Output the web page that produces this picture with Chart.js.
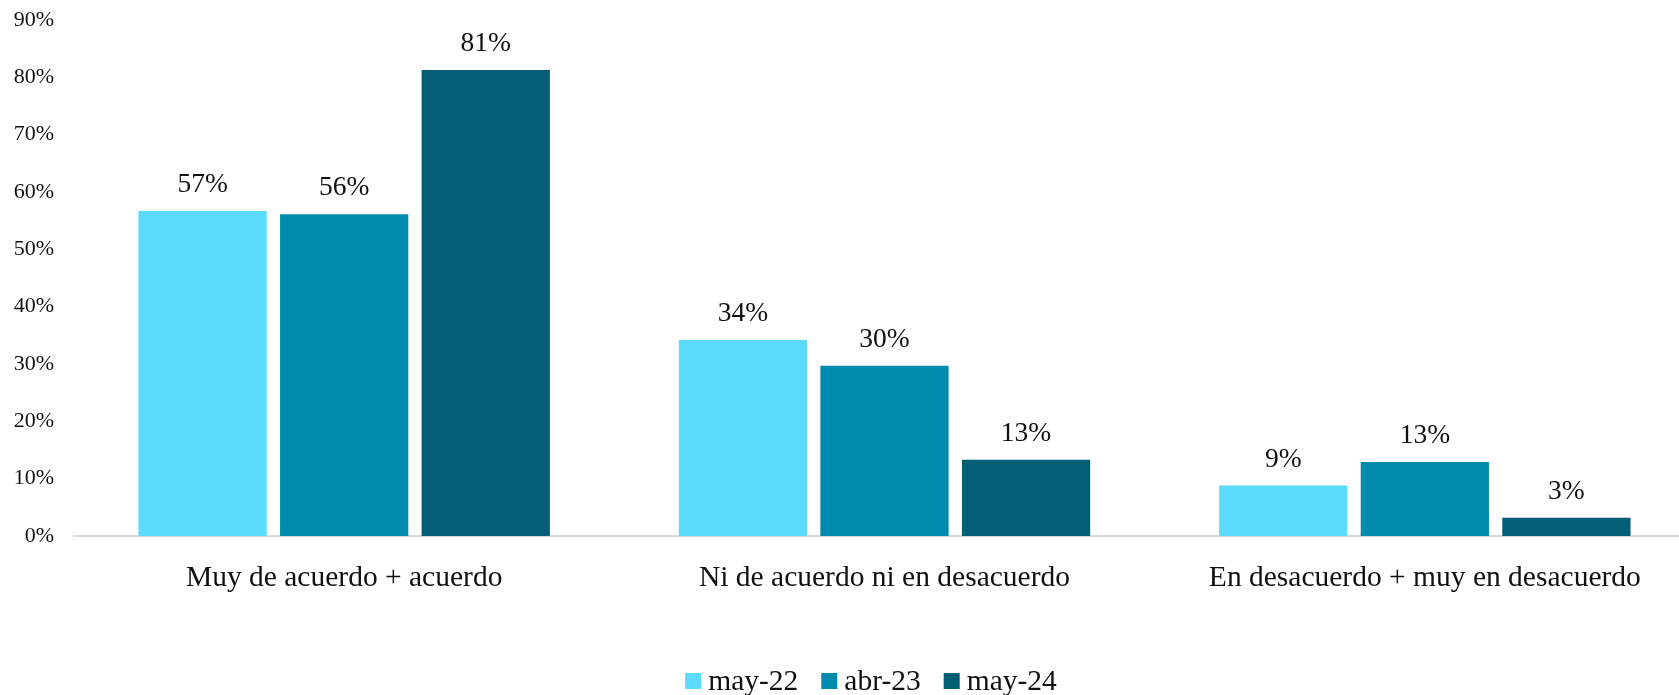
<!DOCTYPE html>
<html>
<head>
<meta charset="utf-8">
<script src="https://cdn.jsdelivr.net/npm/chart.js@4.4.0/dist/chart.umd.min.js"></script>
<style>
  html, body { margin: 0; padding: 0; background: #fff; overflow: hidden; }
  /* plot area runs a little past the right edge, as in the source image */
  #wrap { width: 1695px; height: 695px; position: relative; }
</style>
</head>
<body>
<div id="wrap"><canvas id="chart"></canvas></div>
<script>
// ===== Data =====
const categories = ['Muy de acuerdo + acuerdo', 'Ni de acuerdo ni en desacuerdo', 'En desacuerdo + muy en desacuerdo'];
const seriesNames = ['may-22', 'abr-23', 'may-24'];
const may22 = [56.7, 34.2, 8.8];
const abr23 = [56.1, 29.7, 12.9];
const may24 = [81.3, 13.3, 3.2];
const barLabels = [['57%', '34%', '9%'], ['56%', '30%', '13%'], ['81%', '13%', '3%']];
const yTicks = [0, 10, 20, 30, 40, 50, 60, 70, 80, 90];
const colors = ['#5BDCFD', '#008AAE', '#015E74'];

const FONT = "'Palatino Linotype', 'Book Antiqua', Palatino, 'Liberation Serif', serif";

/* ===== value labels above bars ===== */
const valueLabels = {
  id: 'valueLabels',
  afterDatasetsDraw(chart) {
    const ctx = chart.ctx;
    ctx.save();
    ctx.font = '27.5px ' + FONT;
    ctx.fillStyle = '#111';
    ctx.textAlign = 'center';
    ctx.textBaseline = 'alphabetic';
    chart.data.datasets.forEach((ds, i) => {
      chart.getDatasetMeta(i).data.forEach((bar, j) => {
        ctx.fillText(barLabels[i][j], bar.x, bar.y - 19);
      });
    });
    ctx.restore();
  }
};

/* ===== legend at the bottom (drawn by hand, tight spacing) ===== */
const bottomLegend = {
  id: 'bottomLegend',
  afterDraw(chart) {
    const ctx = chart.ctx;
    const box = 16, gapText = 7, gapItem = 23, cy = 681, cx = 871;
    ctx.save();
    ctx.font = '29.5px ' + FONT;
    ctx.textBaseline = 'middle';
    ctx.textAlign = 'left';
    const items = chart.data.datasets.map(ds => ({
      text: ds.label, color: ds.backgroundColor, w: ctx.measureText(ds.label).width
    }));
    const total = items.reduce((s, it) => s + box + gapText + it.w, 0) + gapItem * (items.length - 1);
    let x = cx - total / 2;
    items.forEach(it => {
      ctx.fillStyle = it.color;
      ctx.fillRect(x, cy - box / 2, box, box);
      x += box + gapText;
      ctx.fillStyle = '#111';
      ctx.fillText(it.text, x, cy + 1);
      x += it.w + gapItem;
    });
    ctx.restore();
  }
};

const series = [may22, abr23, may24];
new Chart(document.getElementById('chart'), {
  type: 'bar',
  data: {
    labels: categories,
    datasets: seriesNames.map((name, i) => ({
      label: name,
      data: series[i],
      backgroundColor: colors[i],
      borderWidth: 0,
      categoryPercentage: 0.786,
      barPercentage: 0.906
    }))
  },
  options: {
    responsive: true,
    maintainAspectRatio: false,
    animation: false,
    layout: { padding: { top: 20, right: 0, bottom: 0, left: 0 } },
    scales: {
      x: {
        afterFit(scale) { scale.height = 159; },
        grid: { display: false, drawTicks: false },
        border: { display: true, color: '#d9d9d9', width: 2 },
        ticks: { color: '#111', font: { family: FONT, size: 29.5 }, padding: 25, maxRotation: 0 }
      },
      y: {
        min: 0,
        max: 90,
        afterBuildTicks(scale) { scale.ticks = yTicks.map(v => ({ value: v })); },
        afterFit(scale) { scale.width = 74; scale.paddingTop = 0; scale.paddingBottom = 0; },
        grid: { display: false, drawTicks: false },
        border: { display: false },
        ticks: {
          color: '#111',
          font: { family: FONT, size: 22 },
          padding: 20,
          callback: v => v + '%'
        }
      }
    },
    plugins: {
      legend: { display: false },
      tooltip: { enabled: false }
    }
  },
  plugins: [valueLabels, bottomLegend]
});
</script>
</body>
</html>
